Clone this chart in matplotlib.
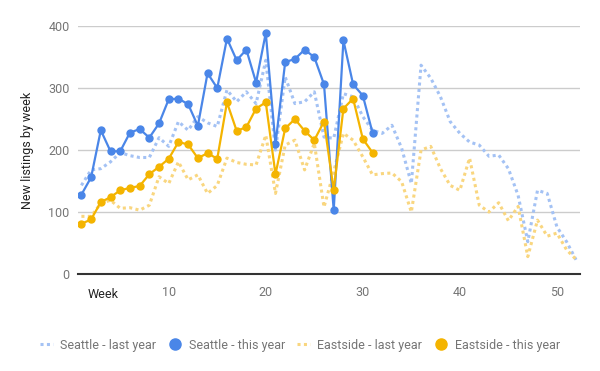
import matplotlib
matplotlib.use("Agg")
import matplotlib.pyplot as plt
from matplotlib.lines import Line2D

plt.rcParams['font.family'] = ['Roboto', 'DejaVu Sans']

# данные: недели и число новых объявлений
weeks_last = list(range(1, 53))
weeks_this = list(range(1, 32))

seattle_last = [143, 168, 170, 181, 196, 191, 188, 188, 220, 206,
                246, 232, 254, 244, 238, 297, 278, 294, 275, 345,
                200, 318, 275, 278, 294, 221, 219, 291, 286, 254,
                232, 227, 240, 203, 146, 337, 316, 286, 246, 227,
                213, 208, 190, 192, 170, 127, 52, 135, 130, 76,
                52, 22]
seattle_this = [128, 156, 232, 198, 198, 228, 234, 220, 243, 282,
                283, 274, 239, 324, 300, 380, 345, 362, 309, 389,
                210, 342, 347, 362, 350, 306, 103, 377, 306, 288,
                228]
eastside_last = [93, 93, 114, 119, 106, 107, 103, 111, 157, 146,
                 181, 152, 160, 130, 143, 187, 180, 177, 176, 224,
                 130, 208, 216, 168, 211, 108, 165, 227, 216, 189,
                 160, 162, 163, 149, 100, 200, 206, 170, 143, 135,
                 187, 111, 100, 115, 86, 109, 28, 87, 61, 66,
                 39, 23]
eastside_this = [81, 88, 116, 124, 135, 139, 142, 161, 173, 186,
                 213, 209, 187, 195, 186, 277, 231, 237, 267, 277,
                 161, 235, 250, 231, 216, 246, 135, 267, 283, 218,
                 196]

x_ticks = [10, 20, 30, 40, 50]
y_ticks = [0, 100, 200, 300, 400]

blue = '#4a86e8'
orange = '#f4b400'
blue_light = '#a4c2f4'
orange_light = '#f9d67f'

fig = plt.figure(figsize=(6, 3.71), dpi=100)
ax = fig.add_axes([0.13, 0.2615, 0.837, 0.668])

dots = (0, (1, 1.1))
ax.plot(weeks_last, seattle_last, color=blue_light, lw=2.2, ls=dots,
        dash_capstyle='butt', zorder=2)
ax.plot(weeks_this, seattle_this, color=blue, lw=1.6, marker='o',
        markersize=5, zorder=3)
ax.plot(weeks_last, eastside_last, color=orange_light, lw=2.2, ls=dots,
        dash_capstyle='butt', zorder=2)
ax.plot(weeks_this, eastside_this, color=orange, lw=1.6, marker='o',
        markersize=5, zorder=3)

ax.set_xlim(0.65, 52.4)
ax.set_ylim(0, 400)
ax.set_xticks(x_ticks)
ax.set_yticks(y_ticks)
ax.tick_params(length=0, labelsize=9, labelcolor='#757575')
ax.tick_params(axis='x', pad=9)
ax.tick_params(axis='y', pad=6)
for s in ax.spines.values():
    s.set_visible(False)
ax.grid(axis='y', color='#cccccc', lw=1)
ax.set_axisbelow(True)
ax.axhline(0, color='#333333', lw=1.5, zorder=4, clip_on=False)

fig.text(88 / 600, 1 - 294 / 371, 'Week', fontsize=9, color='#222222',
         va='center', ha='left')
fig.text(28 / 600, 1 - 150 / 371, 'New listings by week', fontsize=9,
         color='#222222', rotation=90, va='center', ha='center')

handles = [
    Line2D([], [], color=blue_light, lw=2.2, ls=(0, (1, 1.1)), dash_capstyle='butt'),
    Line2D([], [], color=blue, lw=0, marker='o', markersize=8),
    Line2D([], [], color=orange_light, lw=2.2, ls=(0, (1, 1.1)), dash_capstyle='butt'),
    Line2D([], [], color=orange, lw=0, marker='o', markersize=8),
]
labels = ['Seattle - last year', 'Seattle - this year',
          'Eastside - last year', 'Eastside - this year']
leg = fig.legend(handles, labels, loc='center', bbox_to_anchor=(0.5, 1 - 345 / 371),
                 ncol=4, frameon=False, fontsize=9, handlelength=1.0,
                 handletextpad=0.6, columnspacing=1.0)
for t in leg.get_texts():
    t.set_color('#757575')

fig.savefig('out.png', dpi=100)
